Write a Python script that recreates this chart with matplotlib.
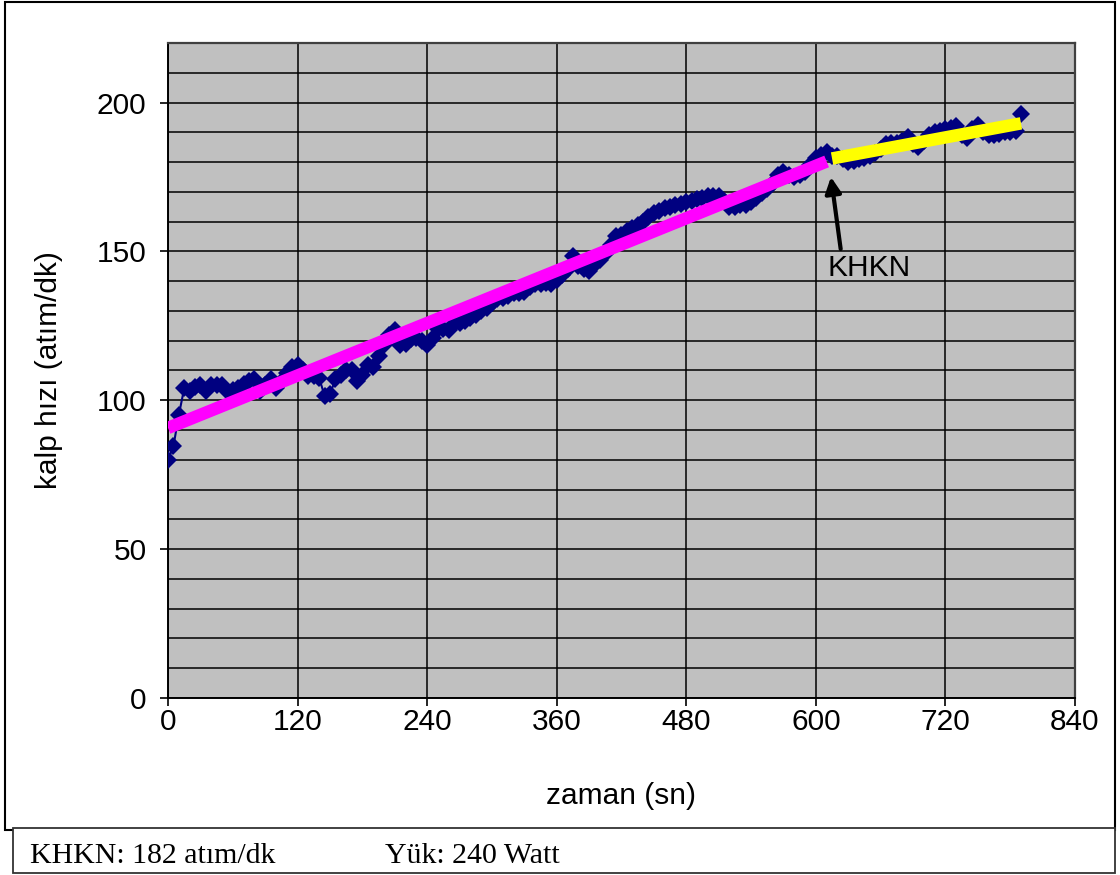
import matplotlib.pyplot as plt
from matplotlib.patches import Rectangle
from matplotlib.ticker import MultipleLocator

plt.rcParams['font.family'] = ['Liberation Sans', 'DejaVu Sans']

# heart rate, one reading every 5 s from 0 to 790 s
time_s = list(range(0, 795, 5))
heart_rate = [
    80, 84.5, 95, 104, 103, 104.5, 105, 103, 105, 105,
    105, 103, 103.5, 104, 105.5, 106.5, 107, 103, 105, 107,
    104, 106, 109, 111, 112, 110, 108, 108, 107.5, 101.5,
    102, 107, 108.5, 110, 110, 106.5, 108.5, 112, 111, 115,
    118.5, 122, 123.5, 118.5, 119, 120.5, 121, 120, 118.5, 121,
    124, 124, 123.5, 125.5, 126, 126.5, 127.5, 128.5, 130, 131,
    132.5, 134, 134.5, 135, 136, 136, 136.5, 138, 139, 139,
    139.5, 139, 140.5, 142, 144, 148.5, 145, 144, 143.5, 145.5,
    147, 149, 152, 155, 155.5, 157, 158, 159, 160, 161.5,
    163, 163.5, 164.5, 165, 165.5, 166, 166.5, 167, 167.5, 168,
    168.5, 168.5, 168.5, 167, 165, 165, 165.5, 165.5, 166.5, 168,
    169.5, 171, 173, 175.5, 176.5, 175.5, 175, 175.5, 176.5, 179,
    181.5, 182.5, 183.5, 182, 182, 181, 180, 180.5, 181, 181.5,
    182, 183, 184.5, 186, 186.5, 186.5, 187, 188.5, 186, 185,
    187, 189, 190, 190.5, 191, 191.5, 192, 189, 188, 191,
    192.5, 190, 189, 189, 189.5, 190, 190, 190.5, 196,
]

# trend before the point (magenta) and after it (yellow)
trend1_t = [0, 610]
trend1_hr = [90.7, 180.2]
trend2_t = [615, 790]
trend2_hr = [181.2, 193.0]

khkn_t = 614
khkn_hr = 175

fig = plt.figure(figsize=(11.2, 8.75), dpi=100)
ax = fig.add_axes([0.15, 0.2023, 0.8098, 0.7486])
ax.set_facecolor('#C0C0C0')

ax.plot(time_s, heart_rate, color='#000080', lw=1.5, marker='D',
        markersize=9.5, markeredgewidth=0, zorder=3)
ax.plot(trend1_t, trend1_hr, color='#FF00FF', lw=9,
        solid_capstyle='butt', zorder=4)
ax.plot(trend2_t, trend2_hr, color='#FFFF00', lw=9,
        solid_capstyle='butt', zorder=4)

ax.annotate('', xy=(khkn_t, khkn_hr), xytext=(623, 150.8),
            arrowprops=dict(arrowstyle='-|>', color='black', lw=3,
                            mutation_scale=24, shrinkA=0, shrinkB=0))
ax.text(611, 149, 'KHKN', fontsize=21.5, ha='left', va='top')

ax.set_xlim(0, 840)
ax.set_ylim(0, 220)
ax.xaxis.set_major_locator(MultipleLocator(120))
ax.yaxis.set_major_locator(MultipleLocator(50))
ax.yaxis.set_minor_locator(MultipleLocator(10))
ax.grid(True, which='major', color='black', lw=1.1)
ax.grid(True, which='minor', axis='y', color='black', lw=1.1)
ax.set_axisbelow(True)
ax.tick_params(axis='both', which='major', labelsize=21.5, direction='out',
               length=5.5, width=1.2)
ax.tick_params(axis='x', which='major', pad=2)
ax.tick_params(axis='y', which='major', pad=10)
ax.tick_params(axis='y', which='minor', length=0)

for side in ['top', 'right']:
    ax.spines[side].set_color('#404040')
    ax.spines[side].set_linewidth(1.6)
for side in ['left', 'bottom']:
    ax.spines[side].set_color('black')
    ax.spines[side].set_linewidth(1.4)

ax.set_xlabel('zaman (sn)', fontsize=21.5, labelpad=33)
ax.set_ylabel('kalp hızı (atım/dk)', fontsize=21.5, labelpad=24)

# outer chart frame and the info box under it
fig.patches.append(Rectangle((5 / 1120, 1 - 830 / 875), 1110 / 1120, 828 / 875,
                             transform=fig.transFigure, fill=False,
                             edgecolor='black', lw=1.5))
fig.patches.append(Rectangle((13 / 1120, 1 - 873 / 875), 1102 / 1120, 45 / 875,
                             transform=fig.transFigure, facecolor='white',
                             edgecolor='#333333', lw=1.3, zorder=5))
fig.text(30 / 1120, 1 - 856 / 875, 'KHKN: 182 atım/dk', family='Liberation Serif',
         fontsize=21.5, va='center', ha='left', zorder=6)
fig.text(385 / 1120, 1 - 856 / 875, 'Yük: 240 Watt', family='Liberation Serif',
         fontsize=21.5, va='center', ha='left', zorder=6)

fig.savefig('out.png', dpi=100)
